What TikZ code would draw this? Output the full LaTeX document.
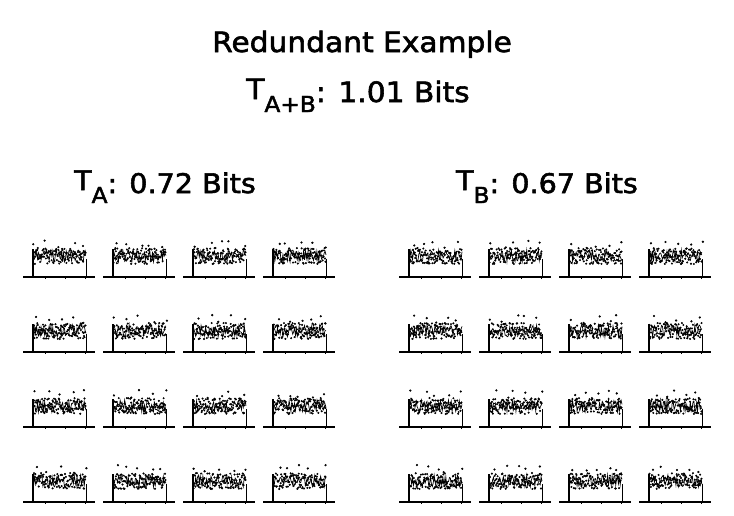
\documentclass[tikz,border=0pt]{standalone}
\usepackage{fontspec}
\setmainfont{DejaVu Sans}
\newfontfamily\hfont{DejaVu Sans}[UprightFeatures={FakeBold=2}]
\newcommand\Tsub[1]{\raisebox{3pt}{T}\raisebox{-10pt}{\fontsize{22}{22}\selectfont #1}}
\tikzset{
  ttl/.style={anchor=base, inner sep=0pt, xscale=1.06, font=\hfont\fontsize{28}{28}\selectfont},
  hdr/.style={anchor=base, inner sep=0pt, xscale=1.06, font=\hfont\fontsize{27}{27}\selectfont},
  axisln/.style={line width=1.4pt},
  dataln/.style={line width=0.7pt},
}
\begin{document}
\begin{tikzpicture}[x=1pt,y=-1pt]
\useasboundingbox (0,0) rectangle (734,515);
\node[ttl] (title) at (362,52) {Redundant Example};
\node[ttl] (tab) at (358,102) {\Tsub{A+B}: 1.01 Bits};
\node[hdr] (ta) at (165,193) {\Tsub{A}: 0.72 Bits};
\node[hdr] (tb) at (547,193) {\Tsub{B}: 0.67 Bits};
\pgfmathsetseed{7}
\foreach \r in {0,...,3}{
  \foreach \c in {0,...,7}{
    \pgfmathsetmacro\xo{23+80*\c+(\c>3?56:0)}
    \pgfmathsetmacro\yo{277+75*\r}
    \begin{scope}[shift={(\xo,\yo)}]
      \draw[axisln] (0,0) -- (72,0);
      \foreach \t in {22,42,62}{\draw[line width=0.6pt] (\t,0) -- (\t,2);}
      \draw[line width=1.3pt] (10,0) -- (10,-28);
      \draw[dataln] plot[domain=10:63, samples=60] (\x,{-(21+6*rand)});
      \fill plot[only marks, mark=*, mark size=0.8pt, domain=10.5:62.5, samples=110] (\x,{-(21+8*rand)});
      \fill plot[only marks, mark=*, mark size=0.9pt, domain=14:60, samples=5] (\x+4*rand,{-(33+4*rand)});
      \draw[line width=1pt] (63,-18) -- (63,0);
    \end{scope}
  }
}
\end{tikzpicture}
\end{document}
